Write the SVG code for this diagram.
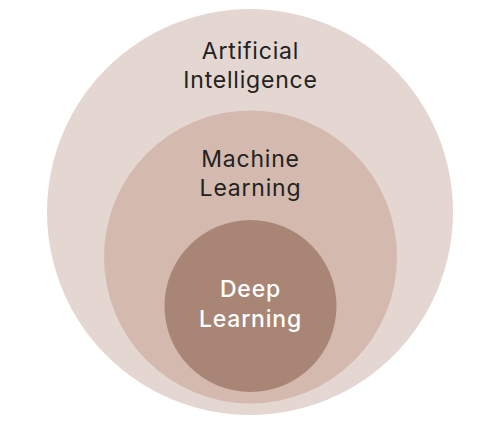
<svg xmlns="http://www.w3.org/2000/svg" width="500" height="424" viewBox="0 0 500 424">
<style>
.lbl{font-family:Inter,"Noto Sans","Liberation Sans",sans-serif;font-size:23px;letter-spacing:0.8px;text-anchor:middle;fill:#222222}
.w{fill:#ffffff;font-weight:500}
</style>
<rect width="500" height="424" fill="#ffffff"/>
<g id="ai">
<circle cx="250" cy="212" r="203" fill="#E4D6D0"/>
<text class="lbl" x="250.5" y="59">Artificial</text>
<text class="lbl" x="250.5" y="88">Intelligence</text>
</g>
<g id="ml">
<circle cx="250.5" cy="257" r="146.5" fill="#D3B9AE"/>
<text class="lbl" x="250.5" y="167">Machine</text>
<text class="lbl" x="250.5" y="196">Learning</text>
</g>
<g id="dl">
<circle cx="250.5" cy="306" r="86" fill="#A88575"/>
<text class="lbl w" x="250.5" y="297">Deep</text>
<text class="lbl w" x="250.5" y="327">Learning</text>
</g>
<g id="connectors"/>
</svg>
